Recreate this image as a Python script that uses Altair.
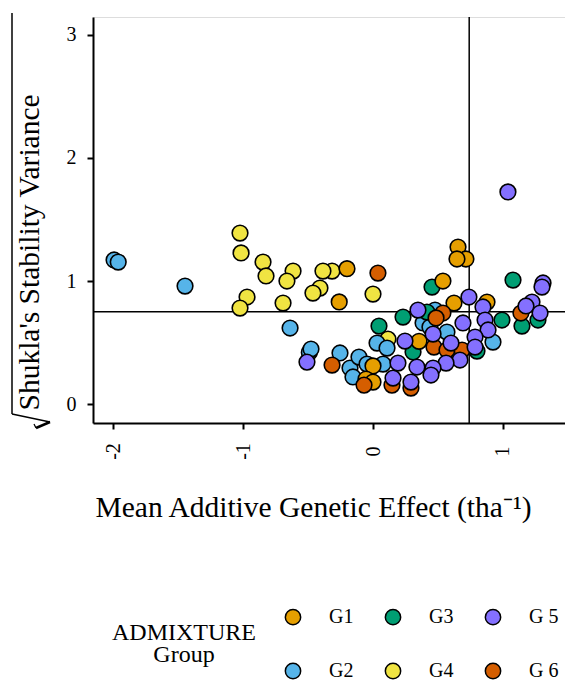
import altair as alt
import pandas as pd

FONT = "Liberation Serif"

# ---- data ----
g4_x = [-1.023, -1.015, -0.846, -0.823, -0.615, -0.662, -0.315, -0.385, -0.969, -1.023, -0.692, -0.408, -0.462, 0.0, 0.115]
g4_y = [1.39, 1.228, 1.154, 1.041, 1.081, 1.0, 1.081, 1.081, 0.87, 0.78, 0.821, 0.943, 0.902, 0.894, 0.528]

g2_x = [-1.992, -1.96, -1.446, -0.638, -0.49, -0.477, -0.254, -0.177, -0.108, -0.154, -0.046, 0.031, 0.108, 0.077, 0.477, 0.385, 0.438, 0.569, 0.923]
g2_y = [1.171, 1.154, 0.959, 0.618, 0.42, 0.447, 0.415, 0.293, 0.382, 0.22, 0.325, 0.496, 0.455, 0.325, 0.764, 0.659, 0.626, 0.585, 0.504]

g3_x = [0.046, 0.231, 0.454, 1.077, 0.415, 0.992, 1.146, 1.269, 0.308, 0.80]
g3_y = [0.634, 0.707, 0.951, 1.008, 0.748, 0.683, 0.634, 0.683, 0.423, 0.431]

g1_x = [-0.20, -0.26, 0.654, 0.715, 0.646, 0.538, 0.623, 0.877, 0.354, 0.0, -0.054, 0.0]
g1_y = [1.10, 0.83, 1.276, 1.179, 1.179, 1.0, 0.821, 0.829, 0.51, 0.31, 0.203, 0.179]

g6_x = [0.038, -0.315, -0.069, 0.146, 0.292, 0.538, 0.485, 0.469, 0.569, 0.685, 1.138]
g6_y = [1.065, 0.317, 0.154, 0.154, 0.13, 0.74, 0.70, 0.463, 0.439, 0.439, 0.74]

g5_x = [-0.508, 0.154, 0.192, 1.038, 1.308, 1.30, 0.738, 0.846, 1.223, 1.177, 0.346, 0.692, 1.285, 0.862,
        0.885, 0.785, 0.246, 0.462, 0.60, 0.785, 0.669, 0.562, 0.462, 0.338, 0.446, 0.292]
g5_y = [0.341, 0.211, 0.333, 1.724, 0.984, 0.951, 0.87, 0.789, 0.829, 0.797, 0.764, 0.659, 0.74, 0.683,
        0.602, 0.545, 0.512, 0.569, 0.496, 0.463, 0.358, 0.333, 0.293, 0.301, 0.236, 0.179]

groups = ["G4", "G2", "G3", "G1", "G 6", "G 5"]
xs = [g4_x, g2_x, g3_x, g1_x, g6_x, g5_x]
ys = [g4_y, g2_y, g3_y, g1_y, g6_y, g5_y]

legend_order = ["G1", "G3", "G 5", "G2", "G4", "G 6"]
legend_colors = ["#E69F00", "#009E73", "#8470FF", "#56B4E9", "#F0E442", "#D55E00"]

mean_x = 0.74
mean_y = 0.75

x_ticks = [-2, -1, 0, 1]
y_ticks = [0, 1, 2, 3]

rows = []
for g, gx, gy in zip(groups, xs, ys):
    for a, b in zip(gx, gy):
        rows.append({"x": a, "y": b, "group": g})
df = pd.DataFrame(rows)

xscale = alt.Scale(domain=[-2.154, 1.477], nice=False, zero=False)
yscale = alt.Scale(domain=[-0.154, 3.146], nice=False, zero=False)

xaxis = alt.Axis(
    values=x_ticks, grid=False, labelAngle=270, labelAlign="center", labelBaseline="middle",
    labelExpr="'' + datum.value",
    labelPadding=22, labelFont=FONT, labelFontSize=20, labelColor="black",
    domainColor="black", domainWidth=2, tickColor="black", tickWidth=2, tickSize=6,
    title="Mean Additive Genetic Effect (tha\u207b\u00b9)", titleFont=FONT, titleFontSize=29.5,
    titleFontWeight="normal", titleColor="black", titleAlign="left", titleBaseline="alphabetic",
    titleX=2, titleY=93, labelFlush=False, labelOverlap=False,
)
yaxis = alt.Axis(
    values=y_ticks, grid=False, labelExpr="'' + datum.value",
    labelPadding=11, labelFont=FONT, labelFontSize=20, labelColor="black",
    domainColor="black", domainWidth=2, tickColor="black", tickWidth=2, tickSize=6,
    title="Shukla's Stability Variance", titleFont=FONT, titleFontSize=29.5, titleFontWeight="normal",
    titleColor="black", titleAngle=270, titleAlign="left", titleBaseline="alphabetic",
    titleX=-55, titleY=393, labelFlush=False,
)

base = alt.Chart(df)

points = base.mark_circle(size=245, opacity=1, stroke="black", strokeWidth=1.6).encode(
    x=alt.X("x:Q", scale=xscale, axis=xaxis),
    y=alt.Y("y:Q", scale=yscale, axis=yaxis),
    color=alt.Color(
        "group:N",
        scale=alt.Scale(domain=legend_order, range=legend_colors),
        legend=alt.Legend(
            title=["ADMIXTURE", "Group"], orient="none", legendX=19, legendY=590,
            direction="horizontal", columns=3, gridAlign="all",
            titleOrient="left", titleAnchor="middle", titleAlign="center",
            titleFont=FONT, titleFontSize=24, titleFontWeight="normal", titleColor="black",
            titleLineHeight=22, titlePadding=-45,
            labelFont=FONT, labelFontSize=20, labelColor="black", labelOffset=26,
            columnPadding=23, rowPadding=32,
            symbolType="circle", symbolSize=235, symbolStrokeColor="black",
            symbolStrokeWidth=1.5, symbolOpacity=1,
        ),
    ),
)

ref_df = pd.DataFrame({"x": [mean_x], "y": [mean_y]})
vline = alt.Chart(ref_df).mark_rule(color="black", strokeWidth=1.5).encode(
    x=alt.X("x:Q", scale=xscale, axis=xaxis))
hline = alt.Chart(ref_df).mark_rule(color="black", strokeWidth=1.5).encode(
    y=alt.Y("y:Q", scale=yscale, axis=yaxis))

# radical sign decoration for the y title
one = pd.DataFrame({"k": [0]})
vinc = alt.Chart(one).mark_rule(color="black", strokeWidth=1.5).encode(
    x=alt.value(-81), x2=alt.value(-81), y=alt.value(-4), y2=alt.value(397))
stroke1 = alt.Chart(one).mark_rule(color="black", strokeWidth=1.3).encode(
    x=alt.value(-81), y=alt.value(397), x2=alt.value(-43), y2=alt.value(405))
stroke2 = alt.Chart(one).mark_rule(color="black", strokeWidth=2.5).encode(
    x=alt.value(-43), y=alt.value(405), x2=alt.value(-57), y2=alt.value(411))
stroke3 = alt.Chart(one).mark_rule(color="black", strokeWidth=1.3).encode(
    x=alt.value(-57), y=alt.value(411), x2=alt.value(-59), y2=alt.value(407))

chart = alt.layer(vline, hline, points, vinc, stroke1, stroke2, stroke3).properties(
    width=472, height=406,
    autosize=alt.AutoSizeParams(type="none"),
    padding={"left": 93, "top": 17, "right": 0, "bottom": 259},
    background="white",
).configure_view(stroke=None).configure_axis(
    labelFont=FONT, titleFont=FONT, labelFontSize=20, labelColor="black"
).configure(font=FONT)

chart.save("out.html", embed_options={"renderer": "svg", "actions": False})
